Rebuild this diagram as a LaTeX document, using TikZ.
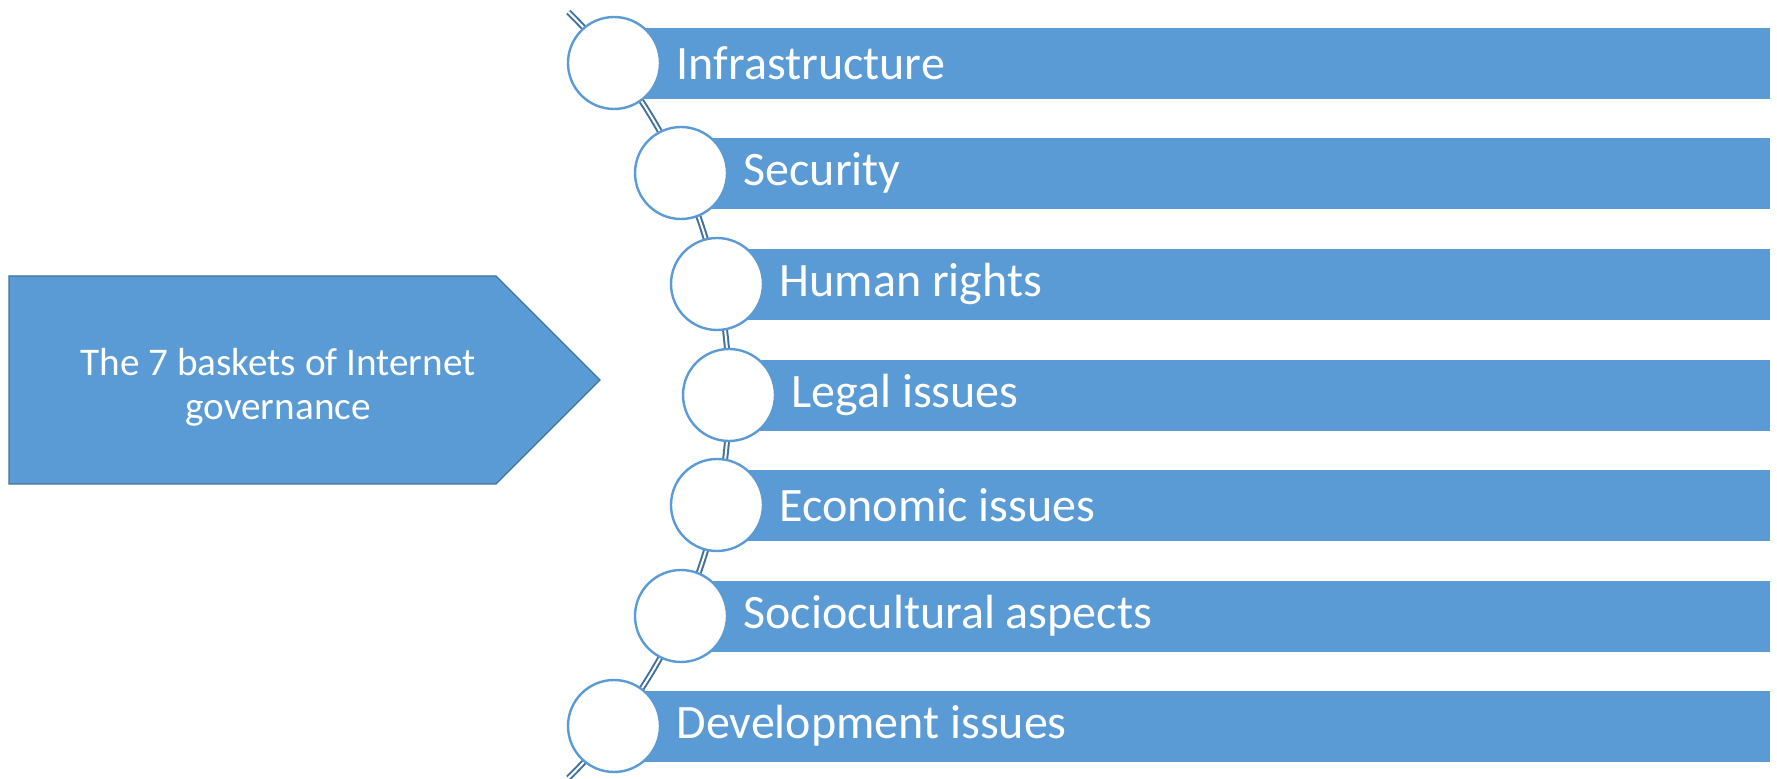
\documentclass[tikz,border=0pt]{standalone}
\usepackage{fontspec}
\setmainfont{Carlito}
\usetikzlibrary{positioning}
\definecolor{basket}{HTML}{5B9BD5}
\definecolor{basketdark}{HTML}{41719C}
\tikzset{
  bar/.style={fill=basket},
  dot/.style={circle,draw=basket,line width=1.2pt,fill=white,minimum size=46pt,inner sep=0pt},
  lbl/.style={text=white,font=\fontsize{24}{29}\selectfont,inner sep=0pt,anchor=west},
  spine/.style={draw=basketdark,line width=1pt,double=white,double distance=1pt},
  head/.style={fill=basket,draw=basketdark,line width=0.6pt}
}
\begin{document}
\begin{tikzpicture}[x=0.5pt,y=-0.5pt]
  \useasboundingbox (0,0) rectangle (1777,779);
  \path[head] (9,276) -- (496,276) -- (600,380) -- (496,484) -- (9,484) -- cycle;
  \node[text=white,align=center,font=\fontsize{19.6}{22}\selectfont] (title) at (278,387) {The 7 baskets of Internet\\governance};
  \coordinate (hub) at (192,395);
  \draw[spine] (hub) ++(45.5:268.5pt) arc[start angle=45.5,end angle=-45.5,radius=268.5pt];
  \path[bar] (614,28) rectangle (1770,99);
  \path[bar] (681,138) rectangle (1770,209);
  \path[bar] (717,249) rectangle (1770,320);
  \path[bar] (729,360) rectangle (1770,431);
  \path[bar] (717,470) rectangle (1770,541);
  \path[bar] (681,581) rectangle (1770,652);
  \path[bar] (614,691) rectangle (1770,762);
  \node[dot] (infra) at (614,63) {};
  \node[dot] (secur) at (681,173) {};
  \node[dot] (human) at (717,284) {};
  \node[dot] (legal) at (729,395) {};
  \node[dot] (econ)  at (717,505) {};
  \node[dot] (socio) at (681,616) {};
  \node[dot] (devel) at (614,726) {};
  \node[lbl,right=7.5pt of infra] (infraT) {Infrastructure};
  \node[lbl,right=7.5pt of secur] (securT) {Security};
  \node[lbl,right=7.5pt of human] (humanT) {Human rights};
  \node[lbl,right=7.5pt of legal] (legalT) {Legal issues};
  \node[lbl,right=7.5pt of econ]  (econT)  {Economic issues};
  \node[lbl,right=7.5pt of socio] (socioT) {Sociocultural aspects};
  \node[lbl,right=7.5pt of devel] (develT) {Development issues};
\end{tikzpicture}
\end{document}
